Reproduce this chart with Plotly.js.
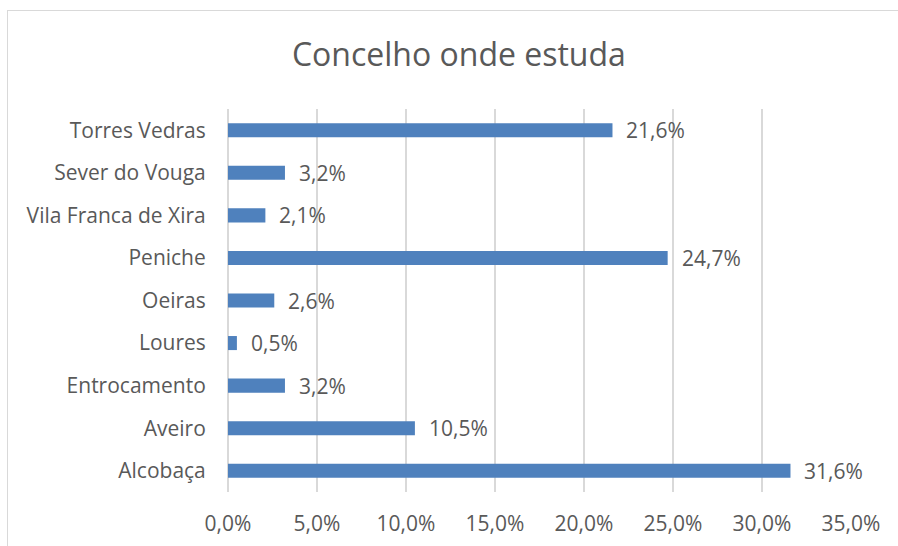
<!DOCTYPE html>
<html>
<head>
<meta charset="utf-8">
<script src="https://cdn.plot.ly/plotly-3.0.1.min.js"></script>
<style>
html,body{margin:0;padding:0;background:#fff;}
#wrap{position:relative;width:898px;height:546px;}
#chart{width:898px;height:546px;}
#frame{position:absolute;left:7px;top:10px;width:900px;height:560px;border:1px solid #d9d9d9;pointer-events:none;}
</style>
</head>
<body>
<div id="wrap"><div id="chart"></div><div id="frame"></div></div>
<script>
const categories = ["Alcobaça","Aveiro","Entrocamento","Loures","Oeiras","Peniche","Vila Franca de Xira","Sever do Vouga","Torres Vedras"];
const values = [31.6, 10.5, 3.2, 0.5, 2.6, 24.7, 2.1, 3.2, 21.6];
const tickVals = [0,5,10,15,20,25,30,35];
const tickText = ["0,0%","5,0%","10,0%","15,0%","20,0%","25,0%","30,0%","35,0%"];

const fmt = v => v.toFixed(1).replace('.', ',') + '%';
const font = "'Open Sans', 'Noto Sans', sans-serif";
const txt = '#595959';

const annotations = categories.map((c,i)=>({
  x: values[i], y: c, xref:'x', yref:'y', text: fmt(values[i]),
  showarrow:false, xanchor:'left', xshift:12,
  font:{family:font, size:21, color:txt}
}));

Plotly.newPlot('chart', [{
  type:'bar', orientation:'h', x: values, y: categories,
  marker:{color:'#4f81bd'}, hoverinfo:'none'
}], {
  width:898, height:546,
  margin:{l:228, r:47, t:109, b:54},
  paper_bgcolor:'#fff', plot_bgcolor:'#fff',
  bargap:0.67,
  showlegend:false,
  title:{text:'Concelho onde estuda', x:0.511, xanchor:'center', y:0.9, yanchor:'middle',
         font:{family:font, size:32, color:txt}},
  xaxis:{range:[0,35], tickvals:tickVals, ticktext:tickText, showgrid:true,
         gridcolor:'#d9d9d9', gridwidth:1.3, zeroline:true, zerolinecolor:'#d9d9d9', zerolinewidth:1.3,
         showline:false, ticks:'outside', ticklen:13, tickcolor:'rgba(0,0,0,0)',
         tickfont:{family:font, size:21, color:txt}, fixedrange:true},
  yaxis:{type:'category', categoryorder:'array', categoryarray:categories,
         showgrid:false, zeroline:false, showline:false,
         ticks:'outside', ticklen:17, tickcolor:'rgba(0,0,0,0)',
         tickfont:{family:font, size:21, color:txt}, fixedrange:true},
  annotations: annotations
}, {displayModeBar:false, staticPlot:true});
</script>
</body>
</html>
